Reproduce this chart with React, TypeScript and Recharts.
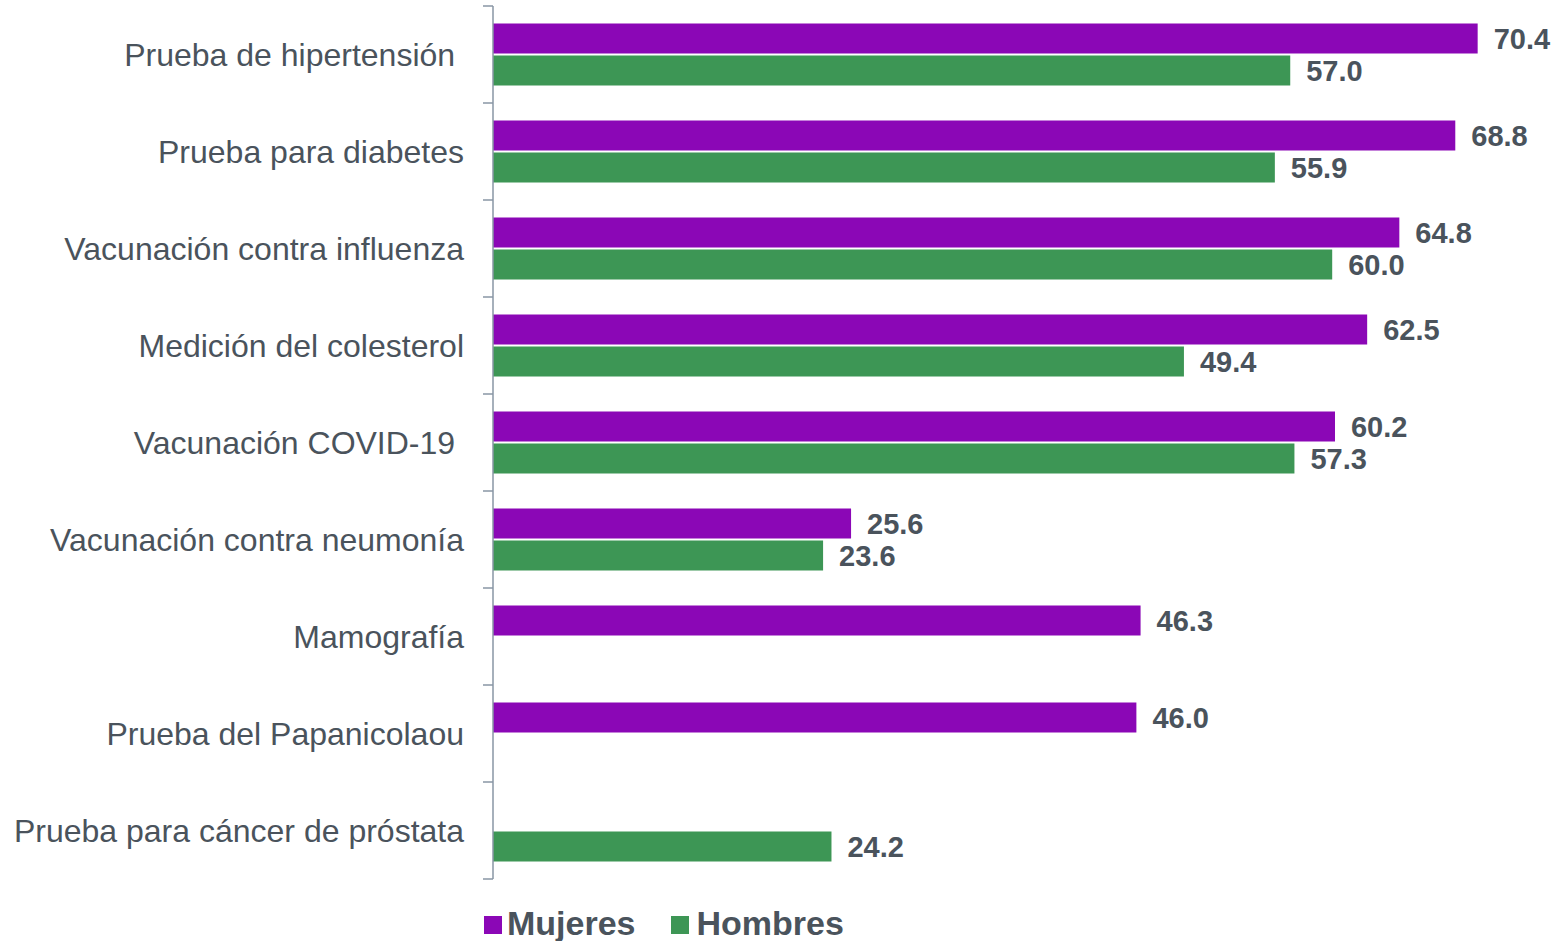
import { Bar, BarChart, LabelList, Legend, XAxis, YAxis } from 'recharts'

// Categories top to bottom; trailing nbsp kept where the source label had a trailing space.
const categories = [
  'Prueba de hipertensión\u00a0',
  'Prueba para diabetes',
  'Vacunación contra influenza',
  'Medición del colesterol',
  'Vacunación COVID-19\u00a0',
  'Vacunación contra neumonía',
  'Mamografía',
  'Prueba del Papanicolaou',
  'Prueba para cáncer de próstata',
]
const mujeres: (number | null)[] = [70.4, 68.8, 64.8, 62.5, 60.2, 25.6, 46.3, 46.0, null]
const hombres: (number | null)[] = [57.0, 55.9, 60.0, 49.4, 57.3, 23.6, null, null, 24.2]

const PURPLE = '#8b07b6'
const GREEN = '#3d9655'
const TEXT = '#4a535c'
const AXIS_LINE = '#8996a5'
const FONT = '"Liberation Sans", Arial, sans-serif'

const data = categories.map((name, i) => ({ name, Mujeres: mujeres[i], Hombres: hombres[i] }))

const fmt = (v: unknown) => (v == null || v === '' ? '' : Number(v).toFixed(1))

// Category label plus a tick mark on the band boundary (not the band centre).
function CategoryTick(props: any) {
  const { x, y, payload, index } = props
  const half = payload?.offset ?? 0
  const axisX = x + 29
  const last = index === categories.length - 1
  return (
    <g>
      <line x1={axisX - 10} x2={axisX} y1={y - half} y2={y - half} stroke={AXIS_LINE} strokeWidth={1.5} />
      {last && <line x1={axisX - 10} x2={axisX} y1={y + half} y2={y + half} stroke={AXIS_LINE} strokeWidth={1.5} />}
      <text x={x} y={y} textAnchor="end" dominantBaseline="central" fontSize={32} fill={TEXT} fontFamily={FONT}>
        {payload.value}
      </text>
    </g>
  )
}

function LegendContent() {
  const item = (label: string, color: string, textGap: number, after: number) => (
    <div style={{ display: 'flex', alignItems: 'center', marginRight: after }}>
      <div style={{ width: 18, height: 18, background: color, marginRight: textGap, marginTop: 4 }} />
      <span style={{ fontSize: 34, fontWeight: 700, color: TEXT, fontFamily: FONT, lineHeight: '36px' }}>{label}</span>
    </div>
  )
  return (
    <div style={{ height: 62, boxSizing: 'border-box', paddingTop: 26, paddingLeft: 484, display: 'flex', alignItems: 'center' }}>
      {item('Mujeres', PURPLE, 5, 35)}
      {item('Hombres', GREEN, 8, 0)}
    </div>
  )
}

export default function App() {
  return (
    <div style={{ position: 'absolute', left: 0, top: 0, background: '#fff' }}>
      <BarChart
        width={1557}
        height={941}
        data={data}
        layout="vertical"
        margin={{ top: 6, right: 15, left: 0, bottom: 0 }}
        barCategoryGap="18%"
        barGap={2}
      >
        <XAxis type="number" domain={[0, 75]} hide />
        <YAxis
          type="category"
          dataKey="name"
          width={493}
          interval={0}
          tickLine={false}
          tickSize={10}
          tickMargin={19}
          axisLine={{ stroke: AXIS_LINE, strokeWidth: 1.5 }}
          tick={<CategoryTick />}
        />
        <Legend verticalAlign="bottom" content={<LegendContent />} wrapperStyle={{ left: 0, width: 1557 }} />
        <Bar dataKey="Mujeres" fill={PURPLE} isAnimationActive={false}>
          <LabelList dataKey="Mujeres" position="right" offset={16} formatter={fmt}
            style={{ fontSize: 29, fontWeight: 700, fill: TEXT, fontFamily: FONT }} />
        </Bar>
        <Bar dataKey="Hombres" fill={GREEN} isAnimationActive={false}>
          <LabelList dataKey="Hombres" position="right" offset={16} formatter={fmt}
            style={{ fontSize: 29, fontWeight: 700, fill: TEXT, fontFamily: FONT }} />
        </Bar>
      </BarChart>
    </div>
  )
}
